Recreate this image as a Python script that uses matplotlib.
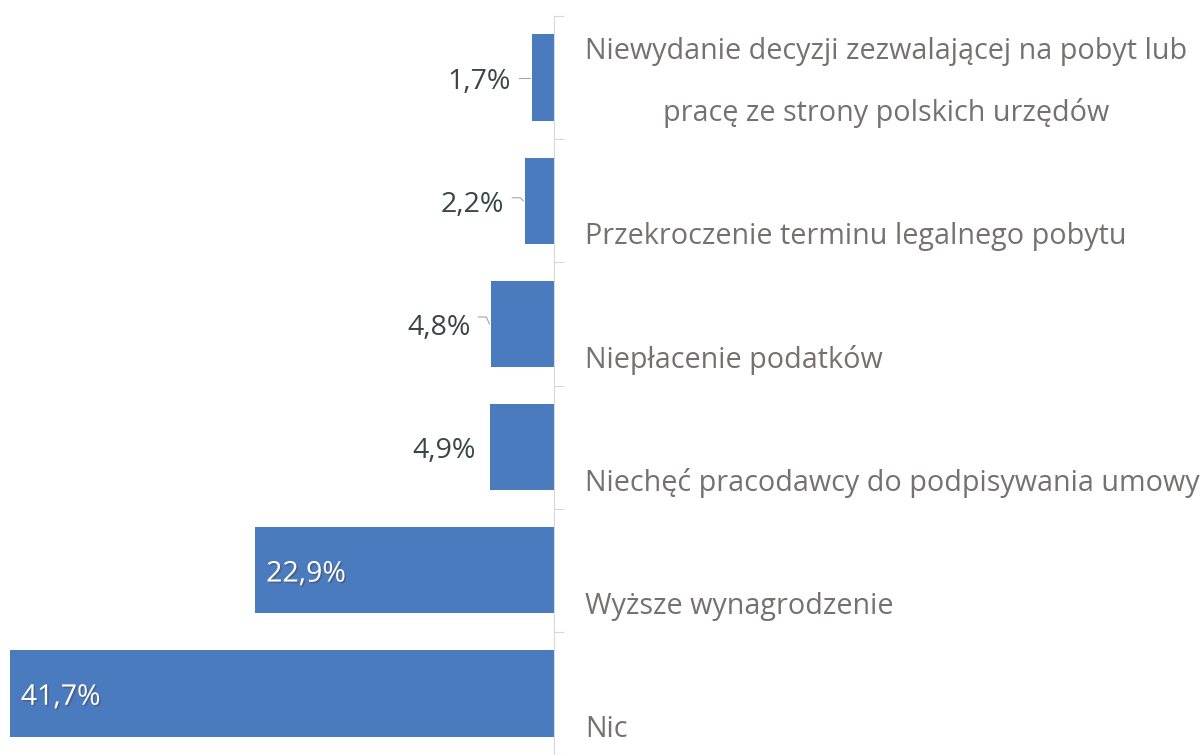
import matplotlib.pyplot as plt
import matplotlib.patheffects as pe
import numpy as np

kategorie = ["Niewydanie decyzji zezwalającej na pobyt lub\npracę ze strony polskich urzędów",
             "Przekroczenie terminu legalnego pobytu",
             "Niepłacenie podatków",
             "Niechęć pracodawcy do podpisywania umowy",
             "Wyższe wynagrodzenie",
             "Nic"]
wartosci = [1.7, 2.2, 4.8, 4.9, 22.9, 41.7]
etykiety = ["1,7%", "2,2%", "4,8%", "4,9%", "22,9%", "41,7%"]

plt.rcParams['font.family'] = ['Open Sans', 'DejaVu Sans']

W, H = 1201, 755
zero_px = 554      # położenie osi w pikselach
skala = 13.05      # pikseli na 1%
pasmo = 124.4      # wysokość jednej kategorii w pikselach
gora = 16

fig = plt.figure(figsize=(W / 100, H / 100), dpi=100)
ax = fig.add_axes([0, 0, 1, (H - gora) / H])
ax.set_xlim(-zero_px / skala, (W - zero_px) / skala)
ax.set_ylim(-0.5 + (H - gora) / pasmo, -0.5)

y = np.arange(len(wartosci))
ax.barh(y, [-v for v in wartosci], height=0.7, color='#4a7bbf', zorder=2)

for s in ['top', 'right', 'bottom']:
    ax.spines[s].set_visible(False)
ax.spines['left'].set_position(('data', 0))
ax.spines['left'].set_color('#d9d9d9')
ax.spines['left'].set_zorder(3)
ax.set_xticks([])
ax.set_yticks(np.arange(-0.5, len(wartosci), 1))
ax.tick_params(axis='y', direction='in', length=7.5, color='#d9d9d9', labelleft=False)

# etykiety kategorii po prawej stronie osi
for i, kat in enumerate(kategorie):
    ax.text(31 / skala, i + 0.5 - 11 / pasmo, kat, ha='left', va='bottom',
            multialignment='center', color='#767171', fontsize=20.7, linespacing=2.4)

# etykiety wartości
cien = [pe.withSimplePatchShadow(offset=(1.2, -1.2), alpha=0.5)]
odsuniecie = [0, 3, 7]  # wygięcie linii odniesienia (px)
for i, (v, et) in enumerate(zip(wartosci, etykiety)):
    if v > 10:
        ax.text(-v + 11 / skala, i + 0.035, et, ha='left', va='center',
                color='white', fontsize=20.5, path_effects=cien, zorder=4)
    else:
        gap = 21 if i < 3 else 14
        ax.text(-v - gap / skala, i + 0.035, et, ha='right', va='center',
                color='#3a4545', fontsize=20.5, zorder=4)
        if i < 3:
            d = odsuniecie[i] / pasmo
            ax.plot([-v - (gap - 8) / skala, -v - 5 / skala, -v - 2 / skala],
                    [i - d, i - d, i], color='#a6a6a6', lw=0.8, zorder=1)

fig.savefig('out.png', dpi=100)
